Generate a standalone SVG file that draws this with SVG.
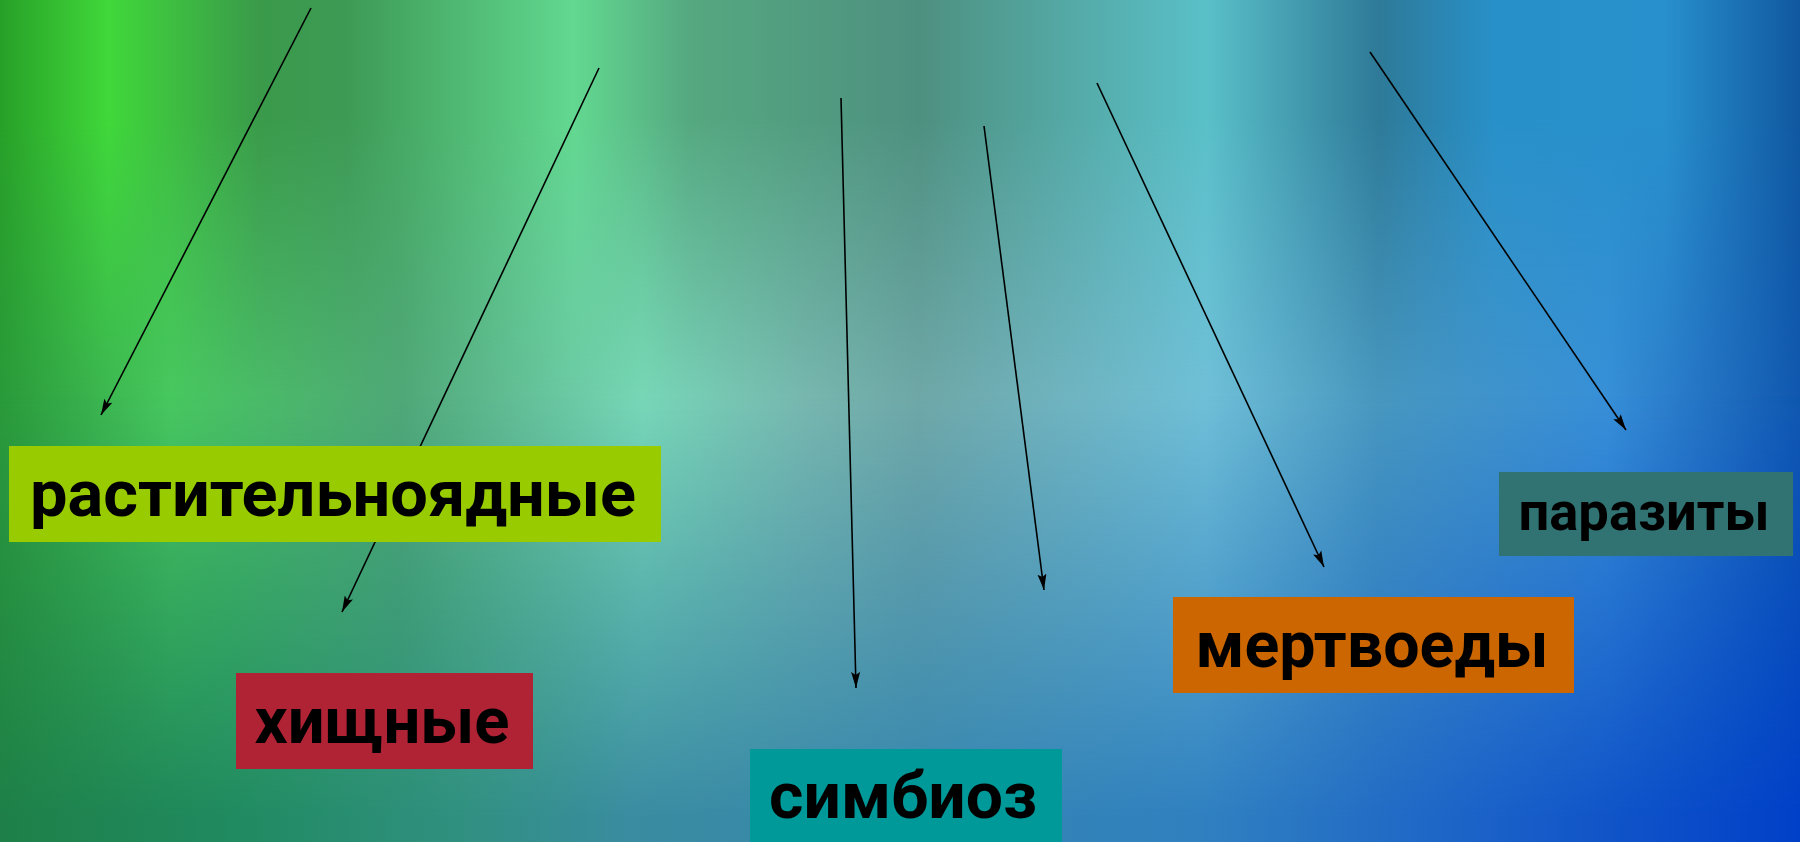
<svg xmlns="http://www.w3.org/2000/svg" width="1800" height="842" viewBox="0 0 1800 842">
<style>
.lbl{font-family:Roboto,"Liberation Sans",Arial,sans-serif;font-weight:bold;font-size:65px;fill:#000;text-anchor:middle}
.sm{font-size:54px}
.conn line{stroke:#000;stroke-width:1.6;fill:none}
</style>
<defs>
<linearGradient id="gMid" x1="0" y1="0" x2="1800" y2="0" gradientUnits="userSpaceOnUse">
<stop offset="0" stop-color="#2a9a3a"/>
<stop offset="0.095" stop-color="#48c860"/>
<stop offset="0.223" stop-color="#50a878"/>
<stop offset="0.357" stop-color="#78d8b8"/>
<stop offset="0.447" stop-color="#78b8b0"/>
<stop offset="0.51" stop-color="#70a8a8"/>
<stop offset="0.67" stop-color="#70c0d8"/>
<stop offset="0.765" stop-color="#4898c0"/>
<stop offset="0.893" stop-color="#3890d8"/>
<stop offset="1" stop-color="#1058b0"/>
</linearGradient>
<linearGradient id="gTop" x1="0" y1="0" x2="1800" y2="0" gradientUnits="userSpaceOnUse">
<stop offset="0" stop-color="#28a028"/>
<stop offset="0.06" stop-color="#40d83a"/>
<stop offset="0.144" stop-color="#3a9a4a"/>
<stop offset="0.192" stop-color="#3d9a55"/>
<stop offset="0.319" stop-color="#62d890"/>
<stop offset="0.383" stop-color="#55a880"/>
<stop offset="0.511" stop-color="#4e9080"/>
<stop offset="0.67" stop-color="#5ac0c8"/>
<stop offset="0.766" stop-color="#2e7a98"/>
<stop offset="0.83" stop-color="#2890c8"/>
<stop offset="0.925" stop-color="#2890cc"/>
<stop offset="1" stop-color="#1058a0"/>
</linearGradient>
<linearGradient id="gBot" x1="0" y1="0" x2="1800" y2="0" gradientUnits="userSpaceOnUse">
<stop offset="0" stop-color="#1e8048"/>
<stop offset="0.128" stop-color="#208a60"/>
<stop offset="0.256" stop-color="#309080"/>
<stop offset="0.35" stop-color="#3a8ca0"/>
<stop offset="0.667" stop-color="#3080c0"/>
<stop offset="0.83" stop-color="#1a60c8"/>
<stop offset="1" stop-color="#0040c8"/>
</linearGradient>
<linearGradient id="mTopG" x1="0" y1="0" x2="0" y2="842" gradientUnits="userSpaceOnUse">
<stop offset="0" stop-color="#fff"/>
<stop offset="0.14" stop-color="#fff"/>
<stop offset="0.48" stop-color="#000"/>
</linearGradient>
<linearGradient id="mBotG" x1="0" y1="0" x2="0" y2="842" gradientUnits="userSpaceOnUse">
<stop offset="0.47" stop-color="#000"/>
<stop offset="0.97" stop-color="#fff"/>
</linearGradient>
<mask id="mTop" maskUnits="userSpaceOnUse" x="0" y="0" width="1800" height="842"><rect width="1800" height="842" fill="url(#mTopG)"/></mask>
<mask id="mBot" maskUnits="userSpaceOnUse" x="0" y="0" width="1800" height="842"><rect width="1800" height="842" fill="url(#mBotG)"/></mask>
<marker id="arr" markerUnits="userSpaceOnUse" markerWidth="18" markerHeight="10" refX="16" refY="5" orient="auto">
<path d="M0,0.5 L16,5 L0,9.5 L3,5 Z" fill="#000"/>
</marker>
</defs>
<g id="background">
<rect width="1800" height="842" fill="url(#gMid)"/>
<rect width="1800" height="842" fill="url(#gTop)" mask="url(#mTop)"/>
<rect width="1800" height="842" fill="url(#gBot)" mask="url(#mBot)"/>
</g>
<g id="connectors" class="conn">
<line x1="311" y1="8" x2="101" y2="415" marker-end="url(#arr)"/>
<line x1="599" y1="68" x2="342" y2="612" marker-end="url(#arr)"/>
<line x1="841" y1="98" x2="856" y2="688" marker-end="url(#arr)"/>
<line x1="984" y1="126" x2="1044" y2="590" marker-end="url(#arr)"/>
<line x1="1097" y1="83" x2="1324" y2="567" marker-end="url(#arr)"/>
<line x1="1370" y1="52" x2="1626" y2="430" marker-end="url(#arr)"/>
</g>
<g id="node-herbivores">
<rect x="9" y="446" width="652" height="96" fill="#99cc00"/>
<text class="lbl" x="333" y="516" textLength="606" lengthAdjust="spacingAndGlyphs">растительноядные</text>
</g>
<g id="node-predators">
<rect x="236" y="673" width="297" height="96" fill="#b02334"/>
<text class="lbl" x="382" y="743" textLength="255" lengthAdjust="spacingAndGlyphs">хищные</text>
</g>
<g id="node-symbiosis">
<rect x="750" y="749" width="312" height="93" fill="#009999"/>
<text class="lbl" x="903" y="818" textLength="268" lengthAdjust="spacingAndGlyphs">симбиоз</text>
</g>
<g id="node-scavengers">
<rect x="1173" y="597" width="401" height="96" fill="#cc6600"/>
<text class="lbl" x="1372" y="667" textLength="353" lengthAdjust="spacingAndGlyphs">мертвоеды</text>
</g>
<g id="node-parasites">
<rect x="1499" y="472" width="294" height="84" fill="#317373"/>
<text class="lbl sm" x="1644" y="530" textLength="251" lengthAdjust="spacingAndGlyphs">паразиты</text>
</g>
</svg>
